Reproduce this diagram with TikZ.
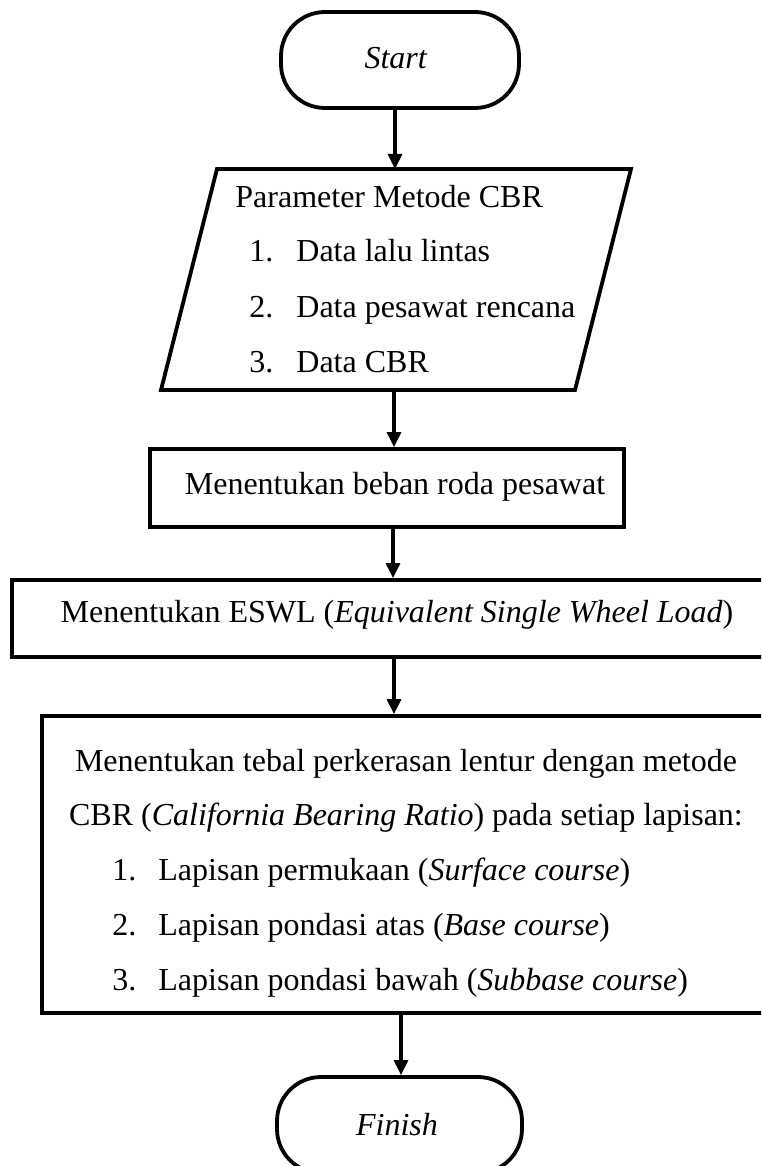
\documentclass[tikz,border=0pt]{standalone}
\usepackage{fontspec}
\setmainfont{Liberation Serif}
\usetikzlibrary{arrows.meta}
\begin{document}
\begin{tikzpicture}[x=0.5pt,y=-0.5pt,
  box/.style={draw, line width=1.9pt, inner sep=0pt},
  term/.style={box, rounded corners=22pt, minimum width=119pt, minimum height=48pt},
  txt/.style={font=\fontsize{16}{20}\selectfont, inner sep=0pt, anchor=base west},
  ctxt/.style={font=\fontsize{16}{20}\selectfont, inner sep=0pt, anchor=base},
  arr/.style={line width=1.6pt, -{Triangle[length=7.5pt,width=7pt]}}]
\clip (0,0) rectangle (761,1166);
\fill[white] (0,0) rectangle (761,1166);
% axes for connectors
\coordinate (ax1) at (395,0);
\coordinate (ax3) at (393,0);
\coordinate (ax4) at (394,0);
\coordinate (ax5) at (401,0);
% Start
\node[term] (start) at (400,60) {};
\node[ctxt] (starttxt) at (396,69) {\textit{Start}};
% Parallelogram
\coordinate (p1) at (217,169);
\coordinate (p2) at (631,169);
\coordinate (p3) at (575,390);
\coordinate (p4) at (161,390);
\coordinate (ptop) at (395,169);
\coordinate (pbot) at (394,390);
\draw[line width=1.9pt, line join=miter] (p1) -- (p2) -- (p3) -- (p4) -- cycle;
\node[txt] (pt0) at (235,207) {Parameter Metode CBR};
\node[txt] (pn1) at (249,262) {1.};
\node[txt] (pt1) at (296,262) {Data lalu lintas};
\node[txt] (pn2) at (249,317) {2.};
\node[txt] (pt2) at (296,317) {Data pesawat rencana};
\node[txt] (pn3) at (249,372) {3.};
\node[txt] (pt3) at (296,372) {Data CBR};
% Box 2
\node[box, minimum width=237pt, minimum height=39pt] (b2) at (387,488) {};
\node[ctxt] (b2t) at (395,494) {Menentukan beban roda pesawat};
% Box 3 (ESWL)
\node[box, minimum width=389pt, minimum height=38.5pt] (b3) at (401,618.5) {};
\node[ctxt] (b3t) at (397,622) {Menentukan ESWL (\textit{Equivalent Single Wheel Load})};
% Box 4
\node[box, minimum width=374pt, minimum height=148.5pt] (b4) at (416,864.5) {};
\node[ctxt] (b4l1) at (406,771) {Menentukan tebal perkerasan lentur dengan metode};
\node[ctxt] (b4l2) at (406,825) {CBR (\textit{California Bearing Ratio}) pada setiap lapisan:};
\node[txt] (b4n1) at (112,880) {1.};
\node[txt] (b4t1) at (158,880) {Lapisan permukaan (\textit{Surface course})};
\node[txt] (b4n2) at (112,935) {2.};
\node[txt] (b4t2) at (158,935) {Lapisan pondasi atas (\textit{Base course})};
\node[txt] (b4n3) at (112,990) {3.};
\node[txt] (b4t3) at (158,990) {Lapisan pondasi bawah (\textit{Subbase course})};
% Finish
\node[term, minimum width=122.5pt] (finish) at (399.5,1125) {};
\node[ctxt] (fintxt) at (397,1135) {\textit{Finish}};
% Connectors
\draw[arr] (start.south -| ax1) -- (ptop);
\draw[arr] (pbot) -- (b2.north -| pbot);
\draw[arr] (b2.south -| ax3) -- (b3.north -| ax3);
\draw[arr] (b3.south -| ax4) -- (b4.north -| ax4);
\draw[arr] (b4.south -| ax5) -- (finish.north -| ax5);
\end{tikzpicture}
\end{document}
